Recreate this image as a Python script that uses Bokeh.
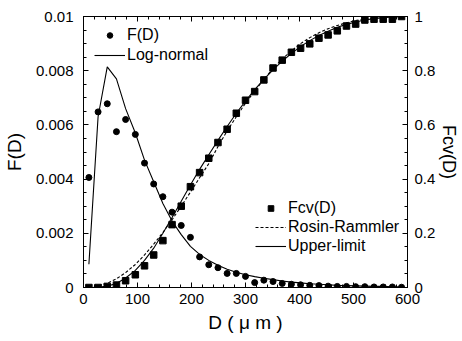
import numpy as np
from bokeh.plotting import figure
from bokeh.models import (LinearAxis, Range1d, FixedTicker, CustomJSTickFormatter,
                          Legend, LegendItem)
from bokeh.embed import file_html
from bokeh.resources import INLINE

# ---------------- data ----------------
D = [10, 27, 44, 61, 78, 96, 113, 130, 147, 164, 181, 198, 215, 232, 249, 266, 283,
     300, 317, 334, 351, 368, 385, 402, 419, 436, 453, 470, 487, 504, 521, 538, 555,
     572, 589]

F_meas = [0.00406, 0.00648, 0.00678, 0.00575, 0.0062, 0.00565, 0.00459, 0.00382,
          0.00335, 0.00278, 0.00229, 0.00185, 0.00113, 0.00084, 0.00073, 0.00052,
          0.00052, 0.00041, 0.00018, 0.00027, 0.00022, 0.00015, 0.00012, 0.0001,
          0.00008, 0.00007, 0.00005, 0.00004, 0.00004, 0.00003, 0.00003, 0.00002,
          0.00002, 0.00002, 0.00001]

F_lognormal = [0.00086, 0.0063, 0.00814, 0.0077, 0.0066, 0.0057, 0.0047, 0.0039,
               0.0031, 0.00245, 0.00195, 0.00152, 0.00122, 0.001, 0.00082, 0.00067,
               0.00056, 0.00047, 0.0004, 0.00034, 0.00029, 0.00024, 0.0002, 0.00017,
               0.00014, 0.00012, 0.0001, 0.00008, 0.00007, 0.00006, 0.00005, 0.00004,
               0.00004, 0.00003, 0.00003]

Fcv_meas = [0.0, 0.0, 0.004, 0.009, 0.025, 0.047, 0.08, 0.12, 0.173, 0.232, 0.30,
            0.372, 0.424, 0.477, 0.535, 0.584, 0.643, 0.691, 0.723, 0.766, 0.81,
            0.839, 0.868, 0.883, 0.899, 0.92, 0.932, 0.947, 0.965, 0.972, 0.987,
            0.99, 0.99, 0.99, 1.0]

Fcv_upper = [0.0, 0.001, 0.005, 0.015, 0.035, 0.063, 0.1, 0.145, 0.2, 0.258, 0.318,
             0.378, 0.436, 0.49, 0.543, 0.594, 0.643, 0.688, 0.73, 0.768, 0.803,
             0.835, 0.864, 0.889, 0.911, 0.93, 0.946, 0.96, 0.971, 0.98, 0.987,
             0.992, 0.996, 0.998, 1.0]

Fcv_rosin = [0.001, 0.006, 0.016, 0.032, 0.055, 0.085, 0.12, 0.16, 0.203, 0.25, 0.3,
             0.352, 0.405, 0.457, 0.52, 0.578, 0.63, 0.68, 0.725, 0.768, 0.808,
             0.843, 0.873, 0.9, 0.922, 0.94, 0.955, 0.967, 0.977, 0.985, 0.99,
             0.994, 0.997, 0.999, 1.0]

x_ticks = [0, 100, 200, 300, 400, 500, 600]
x_labels = ["0", "100", "200", "300", "400", "500", "600"]
yl_ticks = [0, 0.002, 0.004, 0.006, 0.008, 0.01]
yl_labels = ["0", "0.002", "0.004", "0.006", "0.008", "0.01"]
yr_ticks = [0, 0.2, 0.4, 0.6, 0.8, 1.0]
yr_labels = ["0", "0.2", "0.4", "0.6", "0.8", "1"]

# ---------------- figure ----------------
FONT = "Liberation Sans"
p = figure(width=462, height=341, output_backend="svg", toolbar_location=None,
           x_range=Range1d(0, 600), y_range=Range1d(0, 0.01),
           x_axis_location=None, y_axis_location=None,
           min_border_left=80, min_border_right=54, min_border_top=16,
           min_border_bottom=54)
p.extra_y_ranges = {"fcv": Range1d(0, 1)}
p.xgrid.visible = False
p.ygrid.visible = False
p.outline_line_color = "black"
p.outline_line_width = 1
p.background_fill_color = "white"
p.border_fill_color = "white"

code = """
let best = 0, bd = Infinity;
for (let i = 0; i < tvals.length; i++) {
  const d = Math.abs(tvals[i] - tick);
  if (d < bd) { bd = d; best = i; }
}
return tlabels[best];
"""


def style_axis(ax, show_labels=True):
    ax.axis_line_color = "black"
    ax.major_tick_in = 5
    ax.major_tick_out = 0
    ax.minor_tick_in = 3
    ax.minor_tick_out = 0
    ax.major_label_text_font = FONT
    ax.major_label_text_font_size = "15px" if show_labels else "0px"
    ax.major_label_text_color = "black"
    ax.axis_label_text_font = FONT
    ax.axis_label_text_font_size = "19px"
    ax.axis_label_text_font_style = "normal"
    ax.axis_label_text_color = "black"


def fmt(tv, tl):
    return CustomJSTickFormatter(args=dict(tvals=tv, tlabels=tl), code=code)


xt = FixedTicker(ticks=x_ticks, minor_ticks=list(np.arange(0, 601, 20)))
bottom = LinearAxis(ticker=xt, axis_label="D ( \u03bc m )", formatter=fmt(x_ticks, x_labels))
style_axis(bottom)
bottom.major_label_standoff = 6
bottom.axis_label_standoff = 5
p.add_layout(bottom, "below")

top = LinearAxis(ticker=xt, formatter=CustomJSTickFormatter(code="return '';"))
style_axis(top, show_labels=False)
top.major_label_standoff = 0
p.add_layout(top, "above")

ylt = FixedTicker(ticks=yl_ticks, minor_ticks=list(np.arange(0, 0.01001, 0.0005)))
left = LinearAxis(ticker=ylt, axis_label="F(D)", formatter=fmt(yl_ticks, yl_labels))
style_axis(left)
left.major_label_standoff = 10
left.axis_label_standoff = 8
p.add_layout(left, "left")

yrt = FixedTicker(ticks=yr_ticks, minor_ticks=list(np.arange(0, 1.001, 0.05)))
right = LinearAxis(ticker=yrt, y_range_name="fcv", axis_label="Fcv(D)",
                   formatter=fmt(yr_ticks, yr_labels))
style_axis(right)
right.axis_label_text_font_size = "18px"
right.major_label_standoff = 7
right.axis_label_standoff = 1
p.add_layout(right, "right")

# ---------------- glyphs ----------------
r_fd = p.scatter(D, F_meas, marker="circle", size=6, color="black")
r_ln = p.line(D, F_lognormal, line_color="black", line_width=1.1)
r_fcv = p.scatter(D, Fcv_meas, marker="square", size=6.5, color="black", y_range_name="fcv")
r_rr = p.line(D, Fcv_rosin, line_color="black", line_width=1.1, line_dash="3 2", y_range_name="fcv")
r_ul = p.line(D, Fcv_upper, line_color="black", line_width=1.1, y_range_name="fcv")


def make_legend(items, loc, lh):
    lg = Legend(items=items, location=loc, padding=0, margin=0, spacing=0,
                glyph_width=31, glyph_height=14, label_height=lh, label_standoff=2,
                border_line_color=None, background_fill_alpha=0,
                label_text_font=FONT, label_text_font_size="16px",
                label_text_color="black")
    return lg


leg1 = make_legend([LegendItem(label="F(D)", renderers=[r_fd]),
                    LegendItem(label="Log-normal", renderers=[r_ln])], (11, 222), 20)
leg2 = make_legend([LegendItem(label="Fcv(D)", renderers=[r_fcv]),
                    LegendItem(label="Rosin-Rammler", renderers=[r_rr]),
                    LegendItem(label="Upper-limit", renderers=[r_ul])], (172, 32), 19)
p.add_layout(leg1, "center")
p.add_layout(leg2, "center")

open("out.html", "w").write(file_html(p, INLINE))
